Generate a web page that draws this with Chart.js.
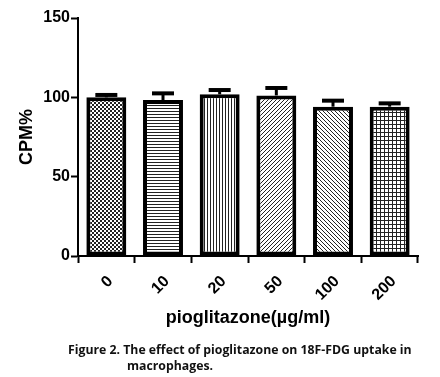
<!DOCTYPE html>
<html>
<head>
<meta charset="utf-8">
<script src="https://cdn.jsdelivr.net/npm/chart.js@4"></script>
<style>
  html, body { margin: 0; padding: 0; background: #fff; }
  #wrap { width: 440px; height: 377px; position: relative; }
</style>
</head>
<body>
<div id="wrap"><canvas id="chart" width="440" height="377"></canvas></div>
<script>
// data
const doses = ['0', '10', '20', '50', '100', '200'];
const cpmMean = [100, 98.3, 101.9, 101.2, 94.1, 94.1];
const cpmSem = [1.5, 4.2, 2.7, 4.7, 3.8, 2.1];
const yTicks = [0, 50, 100, 150];

const captionLines = [
    'Figure 2. The effect of pioglitazone on 18F-FDG uptake in',
    'macrophages.'
];

// small hatch patterns like the GraphPad fills
function makePattern(size, draw) {
    const c = document.createElement('canvas');
    c.width = size;
    c.height = size;
    const g = c.getContext('2d');
    g.fillStyle = '#fff';
    g.fillRect(0, 0, size, size);
    g.fillStyle = '#222';
    draw(g, size);
    return g.createPattern(c, 'repeat');
}

function buildPatterns() {
    return [
        // checker
        makePattern(4, (g) => { g.fillRect(0, 0, 2, 2); g.fillRect(2, 2, 2, 2); }),
        // horizontal lines
        makePattern(3, (g) => { g.fillRect(0, 0, 3, 1); }),
        // vertical lines
        makePattern(3, (g) => { g.fillRect(0, 0, 1, 3); }),
        // diagonal /
        makePattern(4, (g) => {
            for (let i = 0; i < 4; i++) g.fillRect(3 - i, i, 1, 1);
        }),
        // diagonal \
        makePattern(4, (g) => {
            for (let i = 0; i < 4; i++) g.fillRect(i, i, 1, 1);
        }),
        // grid
        makePattern(4, (g) => { g.fillRect(0, 0, 4, 1); g.fillRect(0, 0, 1, 4); })
    ];
}

// upper error bars drawn from the scales
const errorBars = {
    id: 'errorBars',
    afterDatasetsDraw(chart) {
        const ctx = chart.ctx;
        const meta = chart.getDatasetMeta(0);
        const y = chart.scales.y;
        ctx.save();
        ctx.strokeStyle = '#000';
        meta.data.forEach((bar, i) => {
            const top = y.getPixelForValue(cpmMean[i] + cpmSem[i]);
            const base = y.getPixelForValue(cpmMean[i]);
            ctx.lineWidth = 3;
            ctx.beginPath();
            ctx.moveTo(bar.x, base);
            ctx.lineTo(bar.x, top);
            ctx.stroke();
            ctx.lineWidth = 4;
            ctx.beginPath();
            ctx.moveTo(bar.x - 11, top);
            ctx.lineTo(bar.x + 11, top);
            ctx.stroke();
        });
        ctx.restore();
    }
};

const caption = {
    id: 'caption',
    afterDraw(chart) {
        const ctx = chart.ctx;
        ctx.save();
        ctx.fillStyle = '#111';
        ctx.textBaseline = 'middle';
        ctx.textAlign = 'left';
        // fit first line to the width seen in the figure
        let size = 13;
        ctx.font = 'bold ' + size + 'px "Open Sans", sans-serif';
        const w = ctx.measureText(captionLines[0]).width;
        size = size * 344 / w;
        ctx.font = 'bold ' + size.toFixed(2) + 'px "Open Sans", sans-serif';
        ctx.fillText(captionLines[0], 68, 351);
        ctx.fillText(captionLines[1], 127, 367);
        ctx.restore();
    }
};

const tickFont = { family: 'Liberation Sans, Arial, sans-serif', size: 16, weight: 'bold' };
const titleFont = { family: 'Liberation Sans, Arial, sans-serif', size: 18, weight: 'bold' };

const ctx = document.getElementById('chart').getContext('2d');
new Chart(ctx, {
    type: 'bar',
    data: {
        labels: doses,
        datasets: [{
            data: cpmMean,
            backgroundColor: buildPatterns(),
            borderColor: '#000',
            borderWidth: 4,
            borderSkipped: false,
            categoryPercentage: 1,
            barPercentage: 0.705
        }]
    },
    options: {
        responsive: false,
        animation: false,
        events: [],
        layout: { padding: { left: 0, right: 22, top: 18, bottom: 42 } },
        plugins: {
            legend: { display: false },
            tooltip: { enabled: false }
        },
        scales: {
            x: {
                grid: {
                    display: true,
                    drawOnChartArea: false,
                    drawTicks: true,
                    tickLength: 7,
                    tickWidth: 2,
                    tickColor: '#000'
                },
                border: { color: '#000', width: 2 },
                ticks: {
                    color: '#000',
                    font: tickFont,
                    minRotation: 45,
                    maxRotation: 45,
                    padding: 9,
                    labelOffset: 4
                },
                title: {
                    display: true,
                    text: 'pioglitazone(µg/ml)',
                    color: '#000',
                    font: titleFont,
                    padding: { top: 4, bottom: 6 }
                },
                afterFit(scale) { scale.height = 79; }
            },
            y: {
                min: 0,
                max: 150,
                afterBuildTicks(scale) {
                    scale.ticks = yTicks.map(v => ({ value: v }));
                },
                grid: {
                    display: true,
                    drawOnChartArea: false,
                    drawTicks: true,
                    tickLength: 7,
                    tickWidth: 2,
                    tickColor: '#000'
                },
                border: { color: '#000', width: 2 },
                ticks: {
                    color: '#000',
                    font: tickFont,
                    padding: 1
                },
                title: {
                    display: true,
                    text: 'CPM%',
                    color: '#000',
                    font: titleFont,
                    padding: { top: 16, bottom: 0 }
                },
                afterFit(scale) { scale.width = 78; }
            }
        }
    },
    plugins: [errorBars, caption]
});
</script>
</body>
</html>
